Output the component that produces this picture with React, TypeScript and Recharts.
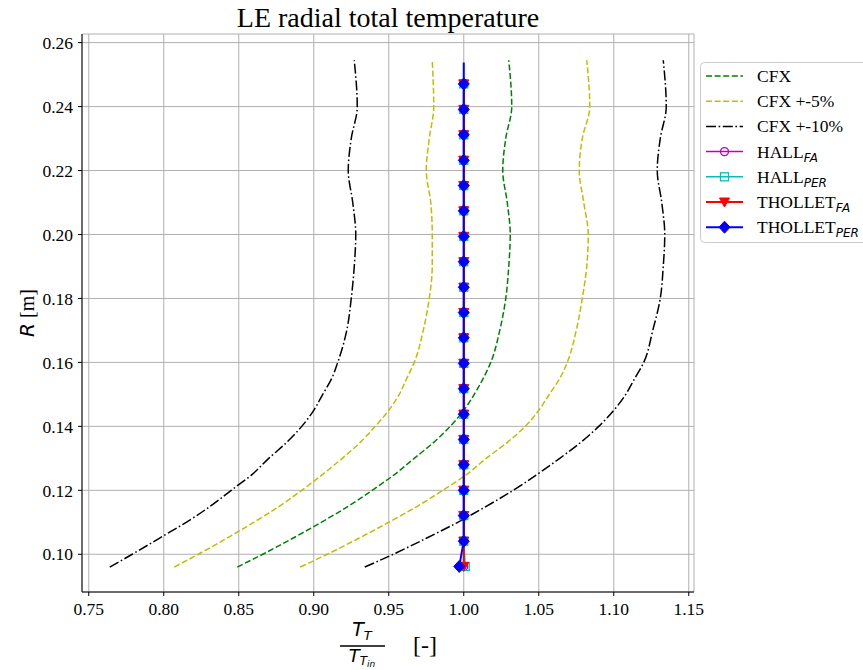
import { LineChart, Line, XAxis, YAxis, CartesianGrid } from "recharts";

// radial stations of the CFX profiles [m]
const cfxR = [
  0.096, 0.1, 0.105, 0.11, 0.115, 0.12, 0.125, 0.13, 0.135, 0.14, 0.145, 0.15,
  0.155, 0.16, 0.17, 0.18, 0.19, 0.2, 0.21, 0.22, 0.23, 0.24, 0.2545,
];
const cfx = [
  0.849, 0.866, 0.886, 0.905, 0.923, 0.939, 0.954, 0.967, 0.98, 0.991, 1.0, 1.007,
  1.013, 1.018, 1.024, 1.028, 1.03, 1.031, 1.029, 1.026, 1.028, 1.032, 1.03,
];
const cfxMinus5 = [
  0.807, 0.823, 0.842, 0.86, 0.877, 0.892, 0.906, 0.919, 0.931, 0.941, 0.95, 0.957,
  0.962, 0.967, 0.973, 0.977, 0.979, 0.979, 0.978, 0.975, 0.977, 0.98, 0.979,
];
const cfxPlus5 = [
  0.891, 0.909, 0.93, 0.95, 0.969, 0.986, 1.002, 1.015, 1.029, 1.041, 1.05, 1.057,
  1.064, 1.069, 1.075, 1.079, 1.082, 1.083, 1.08, 1.077, 1.079, 1.084, 1.082,
];
const cfxMinus10 = [
  0.764, 0.779, 0.797, 0.815, 0.831, 0.845, 0.859, 0.87, 0.882, 0.892, 0.9, 0.906,
  0.912, 0.916, 0.922, 0.925, 0.927, 0.928, 0.926, 0.923, 0.925, 0.929, 0.927,
];
const cfxPlus10 = [
  0.934, 0.953, 0.975, 0.996, 1.015, 1.033, 1.049, 1.064, 1.078, 1.09, 1.1, 1.108,
  1.114, 1.12, 1.126, 1.131, 1.133, 1.134, 1.132, 1.129, 1.131, 1.135, 1.133,
];

// model stations
const expR = [
  0.0962, 0.1041, 0.1121, 0.12, 0.128, 0.1359, 0.1438, 0.1518, 0.1597, 0.1677,
  0.1756, 0.1835, 0.1915, 0.1994, 0.2074, 0.2153, 0.2232, 0.2312, 0.2391, 0.2471,
];
const hallFa = [1.0, 1, 1, 1, 1, 1, 1, 1, 1, 1, 1, 1, 1, 1, 1, 1, 1, 1, 1, 1];
const hallPer = [1.001, 1, 1, 1, 1, 1, 1, 1, 1, 1, 1, 1, 1, 1, 1, 1, 1, 1, 1, 1];
const tholletFa = [1.0, 1, 1, 1, 1, 1, 1, 1, 1, 1, 1, 1, 1, 1, 1, 1, 1, 1, 1, 1];
const tholletPer = [0.997, 1, 1, 1, 1, 1, 1, 1, 1, 1, 1, 1, 1, 1, 1, 1, 1, 1, 1, 1];
// the THOLLET_PER line runs on past its last marker
const tholletPerTopR = 0.2538;
const tholletPerTopV = 1.0;

const xTicks = [0.75, 0.8, 0.85, 0.9, 0.95, 1.0, 1.05, 1.1, 1.15];
const yTicks = [0.1, 0.12, 0.14, 0.16, 0.18, 0.2, 0.22, 0.24, 0.26];
const xDomain = [0.7455, 1.1535];
const yDomain = [0.0882, 0.2627];

const SERIF = "'Liberation Serif', 'Times New Roman', serif";
const SANS = "'DejaVu Sans', sans-serif";

const DASH = "6 2.6";
const DASHDOT = "10 2.6 1.6 2.6";

function pts(rs: number[], vs: number[]) {
  return vs.map((v, i) => ({ r: rs[i], v, show: true }));
}

const tholletPerData = [
  ...pts(expR, tholletPer),
  { r: tholletPerTopR, v: tholletPerTopV, show: false },
];

type Kind = "circle" | "square" | "tri" | "diamond";

function Glyph({ kind, cx, cy, color }: { kind: Kind; cx: number; cy: number; color: string }) {
  if (kind === "circle")
    return <circle cx={cx} cy={cy} r={4} fill="none" stroke={color} strokeWidth={1.3} />;
  if (kind === "square")
    return <rect x={cx - 4} y={cy - 4} width={8} height={8} fill="none" stroke={color} strokeWidth={1.3} />;
  if (kind === "tri")
    return <polygon points={`${cx - 5},${cy - 4} ${cx + 5},${cy - 4} ${cx},${cy + 5}`} fill={color} stroke={color} />;
  return (
    <polygon
      points={`${cx},${cy - 6} ${cx + 5.5},${cy} ${cx},${cy + 6} ${cx - 5.5},${cy}`}
      fill={color}
      stroke={color}
    />
  );
}

function dotFor(kind: Kind, color: string) {
  return (p: any) => {
    const { cx, cy, index, payload } = p;
    const key = `${kind}-${index}`;
    if (cx == null || cy == null || !payload || payload.show === false) return <g key={key} />;
    return (
      <g key={key}>
        <Glyph kind={kind} cx={cx} cy={cy} color={color} />
      </g>
    );
  };
}

const legendRows: { label: string; sub?: string; color: string; dash?: string; kind?: Kind; width: number }[] = [
  { label: "CFX", color: "#008000", dash: DASH, width: 1.5 },
  { label: "CFX +-5%", color: "#bfbf00", dash: DASH, width: 1.5 },
  { label: "CFX +-10%", color: "#000000", dash: DASHDOT, width: 1.5 },
  { label: "HALL", sub: "FA", color: "#bf00bf", kind: "circle", width: 1.5 },
  { label: "HALL", sub: "PER", color: "#00bfbf", kind: "square", width: 1.5 },
  { label: "THOLLET", sub: "FA", color: "#ff0000", kind: "tri", width: 2 },
  { label: "THOLLET", sub: "PER", color: "#0000ff", kind: "diamond", width: 2 },
];

export default function App() {
  const tickStyle = { fontFamily: SERIF, fontSize: 17.5, fill: "#000" };
  const fmt = (v: number) => v.toFixed(2);

  return (
    <div style={{ position: "absolute", left: 0, top: 0, width: 863, height: 670, background: "#fff" }}>
      <LineChart
        width={863}
        height={670}
        layout="vertical"
        margin={{ top: 34, right: 169, bottom: 0, left: 0 }}
      >
        <CartesianGrid stroke="#b0b0b0" strokeWidth={1} />
        <XAxis
          type="number"
          domain={xDomain}
          allowDataOverflow
          ticks={xTicks}
          tickFormatter={fmt}
          tick={tickStyle}
          tickSize={4}
          tickMargin={7}
          height={78}
          stroke="#000"
          interval={0}
        />
        <XAxis
          xAxisId="top"
          orientation="top"
          type="number"
          domain={xDomain}
          allowDataOverflow
          height={0}
          tick={false}
          tickLine={false}
          stroke="#000"
        />
        <YAxis
          type="number"
          dataKey="r"
          domain={yDomain}
          allowDataOverflow
          reversed
          ticks={yTicks}
          tickFormatter={fmt}
          tick={tickStyle}
          tickSize={4}
          tickMargin={5}
          width={82}
          stroke="#000"
          interval={0}
        />
        <YAxis
          yAxisId="right"
          orientation="right"
          type="number"
          dataKey="r"
          domain={yDomain}
          allowDataOverflow
          reversed
          width={0}
          tick={false}
          tickLine={false}
          stroke="#000"
        />

        <Line type="monotone" data={pts(cfxR, cfx)} dataKey="v" stroke="#008000" strokeWidth={1.5} strokeDasharray={DASH} dot={false} activeDot={false} isAnimationActive={false} />
        <Line type="monotone" data={pts(cfxR, cfxMinus5)} dataKey="v" stroke="#bfbf00" strokeWidth={1.5} strokeDasharray={DASH} dot={false} activeDot={false} isAnimationActive={false} />
        <Line type="monotone" data={pts(cfxR, cfxPlus5)} dataKey="v" stroke="#bfbf00" strokeWidth={1.5} strokeDasharray={DASH} dot={false} activeDot={false} isAnimationActive={false} />
        <Line type="monotone" data={pts(cfxR, cfxMinus10)} dataKey="v" stroke="#000" strokeWidth={1.5} strokeDasharray={DASHDOT} dot={false} activeDot={false} isAnimationActive={false} />
        <Line type="monotone" data={pts(cfxR, cfxPlus10)} dataKey="v" stroke="#000" strokeWidth={1.5} strokeDasharray={DASHDOT} dot={false} activeDot={false} isAnimationActive={false} />

        <Line data={pts(expR, hallFa)} dataKey="v" stroke="#bf00bf" strokeWidth={1.5} dot={dotFor("circle", "#bf00bf")} activeDot={false} isAnimationActive={false} />
        <Line data={pts(expR, hallPer)} dataKey="v" stroke="#00bfbf" strokeWidth={1.5} dot={dotFor("square", "#00bfbf")} activeDot={false} isAnimationActive={false} />
        <Line data={pts(expR, tholletFa)} dataKey="v" stroke="#ff0000" strokeWidth={2} dot={dotFor("tri", "#ff0000")} activeDot={false} isAnimationActive={false} />
        <Line data={tholletPerData} dataKey="v" stroke="#0000ff" strokeWidth={2} dot={dotFor("diamond", "#0000ff")} activeDot={false} isAnimationActive={false} />
      </LineChart>

      <svg
        width={863}
        height={670}
        style={{ position: "absolute", left: 0, top: 0, pointerEvents: "none" }}
      >
        <text x={388} y={27} textAnchor="middle" fontFamily={SERIF} fontSize={28} fill="#000">
          LE radial total temperature
        </text>

        <text transform="translate(34,313) rotate(-90)" textAnchor="middle" fontSize={20} fill="#000">
          <tspan fontFamily={SANS} fontStyle="italic">R</tspan>
          <tspan fontFamily={SERIF}> [m]</tspan>
        </text>

        {/* x label: T_T / T_T_in [-] */}
        <text x={362} y={636} textAnchor="middle" fill="#000">
          <tspan fontFamily={SANS} fontStyle="italic" fontSize={19}>T</tspan>
          <tspan fontFamily={SANS} fontStyle="italic" fontSize={13} dy={4}>T</tspan>
        </text>
        <line x1={340} x2={385} y1={646} y2={646} stroke="#000" strokeWidth={1.5} />
        <text x={362} y={662} textAnchor="middle" fill="#000">
          <tspan fontFamily={SANS} fontStyle="italic" fontSize={18}>T</tspan>
          <tspan fontFamily={SANS} fontStyle="italic" fontSize={12} dy={3}>T</tspan>
          <tspan fontFamily={SANS} fontStyle="italic" fontSize={9} dy={2}>in</tspan>
        </text>
        <text x={413} y={653} fontFamily={SERIF} fontSize={24} fill="#000">
          [-]
        </text>

        <rect x={700.5} y={62.5} width={180} height={180} rx={4} fill="#fff" fillOpacity={0.85} stroke="#cccccc" />
        {legendRows.map((row, i) => {
          const cy = 76 + i * 25.2;
          return (
            <g key={i}>
              <line x1={706} x2={743} y1={cy} y2={cy} stroke={row.color} strokeWidth={row.width} strokeDasharray={row.dash} />
              {row.kind && <Glyph kind={row.kind} cx={724.5} cy={cy} color={row.color} />}
              <text x={757} y={cy + 6} fontFamily={SERIF} fontSize={17.5} fill="#000">
                {row.label}
                {row.sub && (
                  <tspan fontFamily={SANS} fontStyle="italic" fontSize={12} dy={4}>
                    {row.sub}
                  </tspan>
                )}
              </text>
            </g>
          );
        })}
      </svg>
    </div>
  );
}
